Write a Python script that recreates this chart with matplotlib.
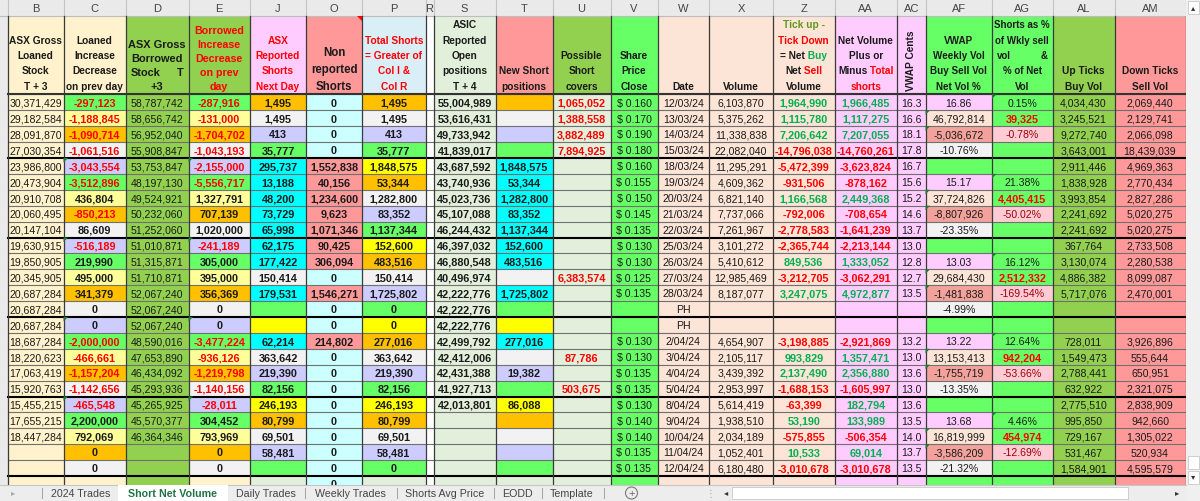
import matplotlib
matplotlib.use("Agg")
import matplotlib.pyplot as plt
from matplotlib.patches import Rectangle, Polygon, Circle

plt.rcParams["font.family"] = ["Liberation Sans", "DejaVu Sans"]

# ---------------- data (rows 1..24, None = empty cell) ----------------
loaned_stock = [30371429, 29182584, 28091870, 27030354, 23986800, 20473904, 20910708, 20060495,
                20147104, 19630915, 19850905, 20345905, 20687284, 20687284, 20687284, 18687284,
                18220623, 17063419, 15920763, 15455215, 17655215, 18447284, None, None]
loaned_change = [-297123, -1188845, -1090714, -1061516, -3043554, -3512896, 436804, -850213,
                 86609, -516189, 219990, 495000, 341379, 0, 0, -2000000,
                 -466661, -1157204, -1142656, -465548, 2200000, 792069, 0, 0]
borrowed_stock = [58787742, 58656742, 56952040, 55908847, 53753847, 48197130, 49524921, 50232060,
                  51252060, 51010871, 51315871, 51710871, 52067240, 52067240, 52067240, 48590016,
                  47653890, 46434092, 45293936, 45265925, 45570377, 46364346, None, None]
borrowed_change = [-287916, -131000, -1704702, -1043193, -2155000, -5556717, 1327791, 707139,
                   1020000, -241189, 305000, 395000, 356369, 0, 0, -3477224,
                   -936126, -1219798, -1140156, -28011, 304452, 793969, 0, 0]
asx_shorts = [1495, 1495, 413, 35777, 295737, 13188, 48200, 73729, 65998, 62175, 177422, 150414,
              179531, None, None, 62214, 363642, 219390, 82156, 246193, 80799, 69501, 58481, None]
non_reported = [0, 0, 0, 0, 1552838, 40156, 1234600, 9623, 1071346, 90425, 306094, 0,
                1546271, 0, 0, 214802, 0, 0, 0, 0, 0, 0, 0, 0, 0]
total_shorts = [1495, 1495, 413, 35777, 1848575, 53344, 1282800, 83352, 1137344, 152600, 483516,
                150414, 1725802, 0, 0, 277016, 363642, 219390, 82156, 246193, 80799, 69501, 58481, 0]
asic_open = [55004989, 53616431, 49733942, 41839017, 43687592, 43740936, 45023736, 45107088,
             46244432, 46397032, 46880548, 40496974, 42222776, 42222776, 42222776, 42499792,
             42412006, 42431388, 41927713, 42013801, None, None, None, None]
new_shorts = [None, None, None, None, 1848575, 53344, 1282800, 83352, 1137344, 152600, 483516, None,
              1725802, None, None, 277016, None, 19382, None, 86088, None, None, None, None]
short_covers = [1065052, 1388558, 3882489, 7894925, None, None, None, None, None, None, None, 6383574,
                None, None, None, None, 87786, None, 503675, None, None, None, None, None]
close_price = [0.160, 0.170, 0.190, 0.180, 0.160, 0.155, 0.150, 0.145, 0.135, 0.130, 0.130, 0.125,
               0.135, None, None, 0.130, 0.130, 0.135, 0.135, 0.130, 0.140, 0.140, 0.135, 0.135]
dates = ["12/03/24", "13/03/24", "14/03/24", "15/03/24", "18/03/24", "19/03/24", "20/03/24",
         "21/03/24", "22/03/24", "25/03/24", "26/03/24", "27/03/24", "28/03/24", "PH", "PH",
         "2/04/24", "3/04/24", "4/04/24", "5/04/24", "8/04/24", "9/04/24", "10/04/24",
         "11/04/24", "12/04/24"]
volume = [6103870, 5375262, 11338838, 22082040, 11295291, 4609362, 6821140, 7737066, 7261967,
          3101272, 5410612, 12985469, 8187077, None, None, 4654907, 2105117, 3439392, 2953997,
          5614419, 1938510, 2034189, 1052401, 6180480]
net_tick_vol = [1964990, 1115780, 7206642, -14796038, -5472399, -931506, 1166568, -792006,
                -2778583, -2365744, 849536, -3212705, 3247075, None, None, -3198885, 993829,
                2137490, -1688153, -63399, 53190, -575855, 10533, -3010678]
net_vol_shorts = [1966485, 1117275, 7207055, -14760261, -3623824, -878162, 2449368, -708654,
                  -1641239, -2213144, 1333052, -3062291, 4972877, None, None, -2921869, 1357471,
                  2356880, -1605997, 182794, 133989, -506354, 69014, -3010678]
vwap_cents = [16.3, 16.6, 18.1, 17.8, 16.7, 15.6, 15.2, 14.6, 13.7, 13.0, 12.8, 12.7, 13.5,
              None, None, 13.2, 13.0, 13.6, 13.0, 13.6, 13.5, 14.0, 13.7, 13.5]
up_ticks = [4034430, 3245521, 9272740, 3643001, 2911446, 1838928, 3993854, 2241692, 2241692,
            367764, 3130074, 4886382, 5717076, None, None, 728011, 1549473, 2788441, 632922,
            2775510, 995850, 729167, 531467, 1584901]
down_ticks = [2069440, 2129741, 2066098, 18439039, 4969363, 2770434, 2827286, 5020275, 5020275,
              2733508, 2280538, 8099087, 2470001, None, None, 3926896, 555644, 650951, 2321075,
              2838909, 942660, 1305022, 520934, 4595579]
# weekly blocks (one entry per week)
wk_vwap = [16.86, 15.17, 13.03, 13.22, 13.68]
wk_volume = [46792814, 37724826, 29684430, 13153413, 16819999]
wk_net_vol = [-5036672, -8807926, -1481838, -1755719, -3586209]
wk_net_pct = [-10.76, -23.35, -4.99, -13.35, -21.32]
wk_short_pct = [0.15, 21.38, 16.12, 12.64, 4.46]
wk_shorts = [39325, 4405415, 2512332, 942204, 454974]
wk_short_net_pct = [-0.78, -50.02, -169.54, -53.66, -12.69]
new_short_rows = [5, 6, 7, 8, 9, 10, 11, 13, 16]

col_letters = ["B", "C", "D", "E", "J", "O", "P", "R", "S", "T", "U", "V", "W", "X", "Z",
               "AA", "AC", "AF", "AG", "AL", "AM"]
headers = [
    ["ASX Gross", "Loaned", "Stock", "T + 3"],
    ["Loaned", "Increase", "Decrease", "on prev day"],
    ["ASX Gross", "Borrowed", "Stock\tT", "+3"],
    ["Borrowed", "Increase", "Decrease", "on prev", "day"],
    ["ASX", "Reported", "Shorts", "Next Day"],
    ["Non", "reported", "Shorts"],
    ["Total Shorts", "= Greater of", "Col I &", "Col R"],
    [],
    ["ASIC", "Reported", "Open", "positions", "T + 4"],
    ["New Short", "positions"],
    ["Possible", "Short", "covers"],
    ["Share", "Price", "Close"],
    ["Date"],
    ["Volume"],
    [],
    [],
    [],
    ["VWAP", "Weekly Vol", "Buy Sell Vol", "Net Vol %"],
    ["Shorts as %", "of Wkly sell", "vol\t&", "% of Net", "Vol"],
    ["Up Ticks", "Buy Vol"],
    ["Down Ticks", "Sell Vol"],
]
tabs = ["2024 Trades", "Short Net Volume", "Daily Trades", "Weekly Trades",
        "Shorts Avg Price", "EODD", "Template"]

# ---------------- layout / style ----------------
edges = [7.5, 63.5, 125.5, 188.5, 250, 306, 362, 425.5, 433.5, 495.5, 552.5, 610.5, 657.5,
         709, 773, 834.5, 897, 925.5, 992, 1052.5, 1114.5, 1185.5]
Y0, RH, HT = 95.4, 15.9, 17.0
TAB_Y = 486

GREEN, LYEL, ORANGE, WHITE, LAV = "#66FF66", "#FFFF99", "#FFC000", "#F2F2F2", "#CCCCFF"
CYAN, LCYAN, YEL, SALMON = "#00FFFF", "#CCFFFF", "#FFFF00", "#FF9999"
OLIVE, CREAM, PALEG, PEACH, PINK = "#92D050", "#FFF2CC", "#E2EFDA", "#FCE4D6", "#FFCCFF"
RED, POS, INK = "#FF0000", "#00B050", "#1A1A1A"
FS = 7.6
FSB = 7.8

cycle_a = [GREEN, LYEL, ORANGE, WHITE, LAV]
cycle_b = [ORANGE, WHITE, LAV, GREEN, YEL]
cycle_af = [PINK, PEACH, "#F2A29B", WHITE, GREEN]

head_bg = [CREAM, CREAM, OLIVE, OLIVE, PINK, SALMON, "#DAEEF8", "white", PALEG, SALMON, OLIVE,
           GREEN, PEACH, PEACH, PEACH, PINK, PINK, GREEN, GREEN, OLIVE, SALMON]
head_col = {"E": RED, "J": RED, "P": RED}
head_size = {"D": 7.9, "E": 7.7, "O": 8.3, "AG": 7.0, "AF": 7.1}
head_gap = {"D": 14.0, "E": 14.0, "O": 16.8}

fig = plt.figure(figsize=(12, 5.02), dpi=100)
ax = fig.add_axes([0, 0, 1, 1])
ax.set_xlim(0, 1200)
ax.set_ylim(502, 0)
ax.axis("off")
renderer = fig.canvas.get_renderer()


def rect(x0, y0, w, h, fc, ec="none", lw=0, z=1):
    ax.add_patch(Rectangle((x0, y0), w, h, facecolor=fc, edgecolor=ec, linewidth=lw, zorder=z))


def put(x, y, s, color=INK, bold=False, size=None, ha="center", z=5, **kw):
    if size is None:
        size = FSB if bold else FS
    return ax.text(x, y, s, color=color, fontsize=size, ha=ha, va="center",
                   fontweight="bold" if bold else "normal", zorder=z, **kw)


def rich(xc, y, parts, size):
    ts = [put(0, y, s, color=c, bold=True, size=size, ha="left") for s, c in parts]
    ws = [t.get_window_extent(renderer).width for t in ts]
    x = xc - sum(ws) / 2
    for t, w in zip(ts, ws):
        t.set_x(x)
        x += w


def fmt(v):
    return "" if v is None else f"{v:,}"


def tri(x, y):
    ax.add_patch(Polygon([(x, y), (x + 4.5, y), (x, y + 4.5)], closed=True,
                         facecolor="#1E7B34", edgecolor="none", zorder=4))


ncol = len(col_letters)
cx = [(edges[i] + edges[i + 1]) / 2 for i in range(ncol)]
ci = {c: i for i, c in enumerate(col_letters)}
nrows = 25


def row_y(r):  # r is 1-based
    return Y0 + (r - 1) * RH


# ---------------- column letter strip ----------------
rect(0, 0, 1186, HT, "#EAEAEA")
rect(0, HT, edges[0], TAB_Y - HT, "#EAEAEA")
for i, c in enumerate(col_letters):
    put(cx[i], HT / 2, c, color="#444444", size=8)
for e in edges:
    ax.plot([e, e], [0, HT], color="#C4C4C4", lw=0.8, zorder=2)
ax.plot([0, 1186], [HT, HT], color="#BDBDBD", lw=0.8, zorder=2)

# ---------------- header cells ----------------
for i, c in enumerate(col_letters):
    x0, x1 = edges[i], edges[i + 1]
    rect(x0, HT, x1 - x0, Y0 - HT, head_bg[i])
    lines = headers[i]
    size = head_size.get(c, 7.3)
    gap = head_gap.get(c, 15.3)
    for k, ln in enumerate(lines):
        y = 86.5 - (len(lines) - 1 - k) * gap
        col = head_col.get(c, INK)
        if "\t" in ln:
            left, right = ln.split("\t")
            put(x0 + 5, y, left, color=col, bold=True, size=size, ha="left")
            put(x1 - 5, y, right, color=col, bold=True, size=size, ha="right")
        else:
            put(cx[i], y, ln, color=col, bold=True, size=size)

zc = cx[ci["Z"]]
rich(zc, 25.5, [("Tick up -", "#5E9A1E")], 7.3)
rich(zc, 40.8, [("Tick Down", RED)], 7.3)
rich(zc, 56.1, [("= Net", INK), (" Buy", POS)], 7.3)
rich(zc, 71.4, [("Net", INK), (" Sell", RED)], 7.3)
rich(zc, 86.5, [("Volume", INK)], 7.3)
ac = cx[ci["AA"]]
rich(ac, 40.8, [("Net Volume", INK)], 7.3)
rich(ac, 56.1, [("Plus or", INK)], 7.3)
rich(ac, 71.4, [("Minus", INK), (" Total", RED)], 7.3)
rich(ac, 86.5, [("shorts", RED)], 7.3)
put(cx[ci["AC"]], 61, "VWAP Cents", bold=True, size=7.3, rotation=90)
xo1 = edges[ci["O"] + 1]
ax.add_patch(Polygon([(xo1 - 5, HT), (xo1, HT), (xo1, HT + 5)], closed=True,
                     facecolor=RED, edgecolor="none", zorder=4))

# ---------------- data cells ----------------
for r in range(1, nrows + 1):
    k = r - 1
    y0 = row_y(r)
    yc = y0 + RH / 2 + 0.3
    last = r > 24
    wk, pos = divmod(k, 5)

    fills = {}
    fills["B"] = CREAM
    fills["C"] = fills["E"] = CREAM if last else cycle_a[k % 5]
    fills["D"] = OLIVE
    base_b = PALEG if last else cycle_b[k % 5]
    fills["J"] = CYAN if r in new_short_rows else base_b
    fills["T"] = CYAN if r in new_short_rows else base_b
    fills["P"] = base_b
    fills["O"] = SALMON if (non_reported[k] or 0) > 0 else LCYAN
    fills["R"] = "white"
    fills["S"] = fills["U"] = PALEG
    fills["V"] = GREEN
    fills["W"] = fills["X"] = fills["Z"] = PEACH
    fills["AA"] = fills["AC"] = PINK
    fills["AF"] = cycle_af[pos]
    fills["AG"] = "#FFCCD5" if pos == 2 else GREEN
    fills["AL"] = OLIVE
    fills["AM"] = SALMON
    for c, fc in fills.items():
        i = ci[c]
        rect(edges[i], y0, edges[i + 1] - edges[i], RH, fc)

    if k < len(non_reported):
        put(cx[ci["O"]], yc, fmt(non_reported[k]), bold=True)
    if last:
        continue

    put(cx[ci["B"]], yc, fmt(loaned_stock[k]))
    v = loaned_change[k]
    put(cx[ci["C"]], yc, fmt(v), color=RED if v < 0 else INK, bold=True)
    put(cx[ci["D"]], yc, fmt(borrowed_stock[k]))
    v = borrowed_change[k]
    put(cx[ci["E"]], yc, fmt(v), color=RED if v < 0 else INK, bold=True)
    put(cx[ci["J"]], yc, fmt(asx_shorts[k]), bold=True)
    put(cx[ci["P"]], yc, fmt(total_shorts[k]), bold=True)
    put(cx[ci["S"]], yc, fmt(asic_open[k]), bold=True)
    put(cx[ci["T"]], yc, fmt(new_shorts[k]), bold=True)
    put(cx[ci["U"]], yc, fmt(short_covers[k]), color=RED, bold=True)
    if close_price[k] is not None:
        put(cx[ci["V"]], yc, f"$ {close_price[k]:.3f}")
    put(cx[ci["W"]], yc, dates[k])
    put(cx[ci["X"]], yc, fmt(volume[k]))
    for c, arr in (("Z", net_tick_vol), ("AA", net_vol_shorts)):
        v = arr[k]
        if v is not None:
            put(cx[ci[c]], yc, fmt(v), color=RED if v < 0 else POS, bold=True)
    if vwap_cents[k] is not None:
        put(cx[ci["AC"]], yc, f"{vwap_cents[k]:.1f}")
    put(cx[ci["AL"]], yc, fmt(up_ticks[k]))
    put(cx[ci["AM"]], yc, fmt(down_ticks[k]))

    if pos == 0:
        put(cx[ci["AF"]], yc, f"{wk_vwap[wk]:.2f}")
        put(cx[ci["AG"]], yc, f"{wk_short_pct[wk]:.2f}%")
        tri(edges[ci["AG"]], y0)
    elif pos == 1:
        put(cx[ci["AF"]], yc, fmt(wk_volume[wk]))
        put(cx[ci["AG"]], yc, fmt(wk_shorts[wk]), color=RED, bold=True)
        tri(edges[ci["AF"]], y0)
    elif pos == 2:
        put(cx[ci["AF"]], yc, fmt(wk_net_vol[wk]))
        put(cx[ci["AG"]], yc, f"{wk_short_net_pct[wk]:.2f}%", color="#9C0006")
        tri(edges[ci["AF"]], y0)
    elif pos == 3:
        put(cx[ci["AF"]], yc, f"{wk_net_pct[wk]:.2f}%")
    else:
        tri(edges[ci["C"]], y0)
        tri(edges[ci["E"]], y0)

# ---------------- grid ----------------
x_end = edges[-1]
for r in range(1, nrows + 1):
    y = row_y(r)
    if r % 5 == 0:
        ax.plot([edges[0], x_end], [y, y], color="black", lw=1.5, zorder=3)
    else:
        ax.plot([edges[0], x_end], [y, y], color="#707070", lw=0.8, zorder=3)
ax.plot([edges[0], x_end], [Y0, Y0], color="#333333", lw=1.5, zorder=3)
for e in edges:
    ax.plot([e, e], [HT, TAB_Y], color="#3A3A3A", lw=0.9, zorder=3)

# ---------------- sheet tabs / scroll bars ----------------
rect(0, TAB_Y, 1186, 502 - TAB_Y, "#EDEDED", z=6)
ax.plot([0, 1186], [TAB_Y, TAB_Y], color="#C6C6C6", lw=0.8, zorder=7)
put(13, 494, "\u25b8", color="#A8A8A8", size=6, z=8)
tab_x = [80.5, 173, 265.5, 350.5, 445, 517.5, 571.5]
seps = [42, 305, 396.5, 494, 542, 604]
rect(118, TAB_Y, 110, 502 - TAB_Y, "white", z=7)
for name, x in zip(tabs, tab_x):
    active = name == "Short Net Volume"
    put(x, 494, name, color="#217346" if active else "#444444", bold=active,
        size=7.7, z=8)
for x in seps:
    ax.plot([x, x], [489, 499], color="#A8A8A8", lw=0.8, zorder=8)
ax.add_patch(Circle((631.5, 494), 6, facecolor="none", edgecolor="#7A7A7A", lw=0.8, zorder=8))
put(631.5, 493.6, "+", color="#6A6A6A", size=8, z=8)
put(710, 494, "\u22ee", color="#A0A0A0", size=7, z=8)
put(726, 494, "\u25c2", color="#333333", size=6, z=8)
rect(732, 488, 396, 12, "white", ec="#C8C8C8", lw=0.6, z=8)
put(1177, 494, "\u25b8", color="#333333", size=6, z=8)

rect(1186, 0, 14, 502, "#F0F0F0", z=6)
rect(1187.5, 2, 11, 13, "white", ec="#C8C8C8", lw=0.6, z=7)
put(1193, 9, "\u25b4", color="#333333", size=6, z=8)
rect(1187.5, 457, 11, 13, "white", ec="#C8C8C8", lw=0.6, z=7)
rect(1187.5, 472, 11, 13, "white", ec="#C8C8C8", lw=0.6, z=7)
put(1193, 478, "\u25be", color="#333333", size=6, z=8)

fig.savefig("out.png", dpi=100)
